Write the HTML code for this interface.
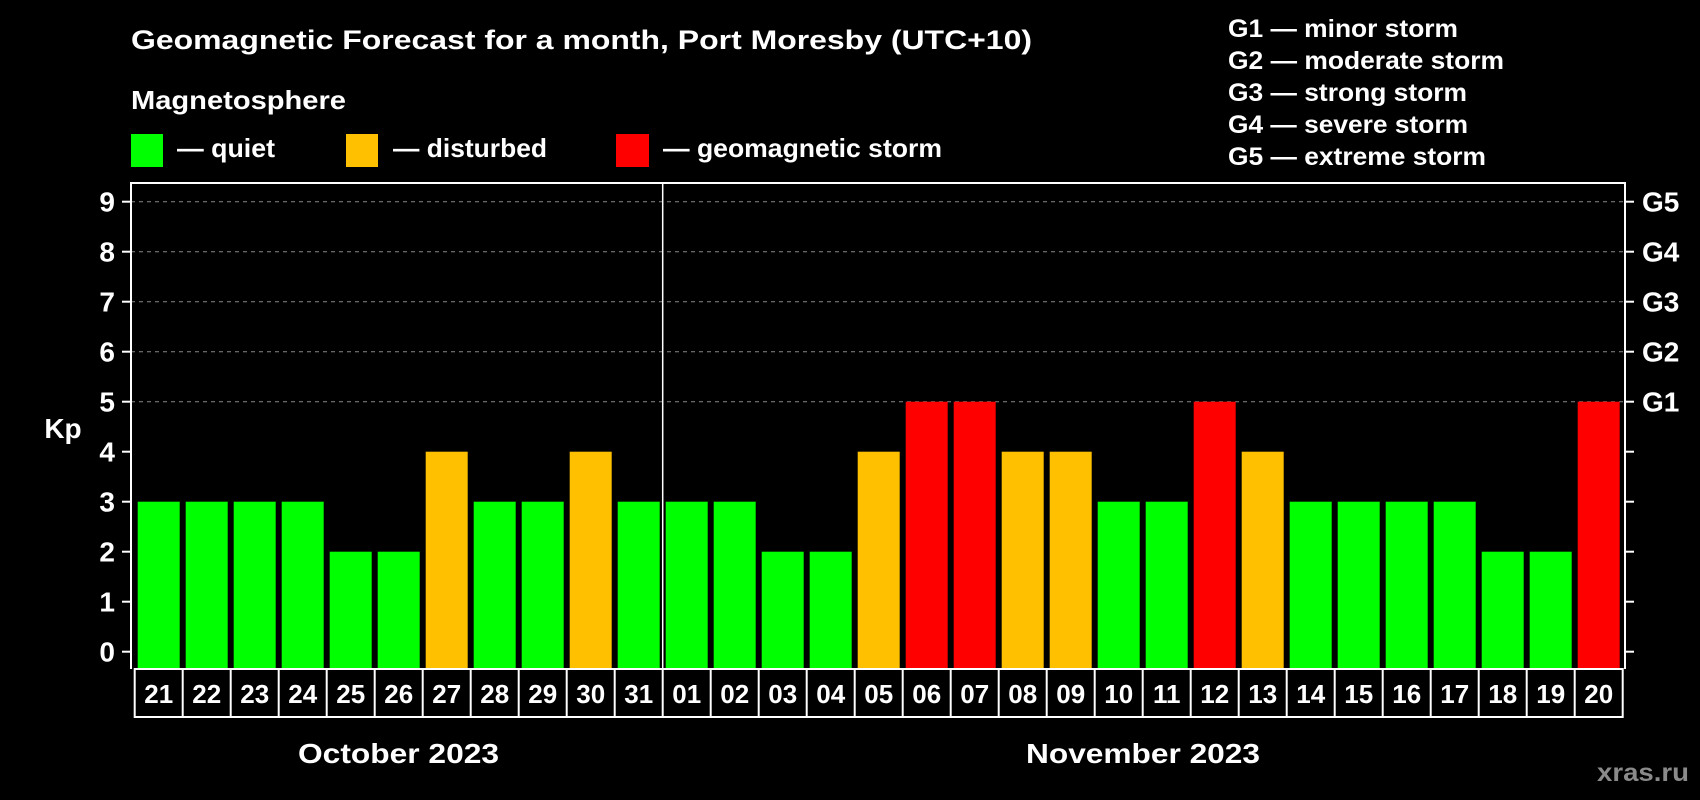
<!DOCTYPE html>
<html><head><meta charset="utf-8"><style>
html,body{margin:0;padding:0;background:#000;}
svg{display:block;font-family:"Liberation Sans",Arial,sans-serif;font-weight:bold;}
</style></head><body>
<svg id="chart" width="1700" height="800" viewBox="0 0 1700 800">
<rect x="0" y="0" width="1700" height="800" fill="#000"/>
<text x="131" y="49" font-size="27" fill="#fff" textLength="901" lengthAdjust="spacingAndGlyphs">Geomagnetic Forecast for a month, Port Moresby (UTC+10)</text>
<text x="131" y="109" font-size="26" fill="#fff" textLength="215" lengthAdjust="spacingAndGlyphs">Magnetosphere</text>
<g><rect x="131" y="134" width="32" height="33" fill="#00ff00"/><text x="177" y="157" font-size="26" fill="#fff" textLength="98" lengthAdjust="spacingAndGlyphs">— quiet</text></g>
<g><rect x="346" y="134" width="32" height="33" fill="#ffc000"/><text x="393" y="157" font-size="26" fill="#fff" textLength="154" lengthAdjust="spacingAndGlyphs">— disturbed</text></g>
<g><rect x="616" y="134" width="33" height="33" fill="#ff0000"/><text x="663" y="157" font-size="26" fill="#fff" textLength="279" lengthAdjust="spacingAndGlyphs">— geomagnetic storm</text></g>
<g font-size="25" fill="#fff">
<text x="1228" y="37" textLength="230" lengthAdjust="spacingAndGlyphs">G1 — minor storm</text>
<text x="1228" y="69" textLength="276" lengthAdjust="spacingAndGlyphs">G2 — moderate storm</text>
<text x="1228" y="101" textLength="239" lengthAdjust="spacingAndGlyphs">G3 — strong storm</text>
<text x="1228" y="133" textLength="240" lengthAdjust="spacingAndGlyphs">G4 — severe storm</text>
<text x="1228" y="165" textLength="258" lengthAdjust="spacingAndGlyphs">G5 — extreme storm</text>
</g>
<text x="63" y="438" font-size="28" fill="#fff" text-anchor="middle">Kp</text>
<g id="grid"></g><g id="bars"></g><g id="axes"></g><g id="dates"></g>
<text x="298" y="763" font-size="28" fill="#fff" textLength="201" lengthAdjust="spacingAndGlyphs">October 2023</text>
<text x="1026" y="763" font-size="28" fill="#fff" textLength="234" lengthAdjust="spacingAndGlyphs">November 2023</text>
<text x="1597" y="781" font-size="25" fill="#8a8a8a" textLength="92" lengthAdjust="spacingAndGlyphs">xras.ru</text>
</svg>
<script>
const days = ["21","22","23","24","25","26","27","28","29","30","31","01","02","03","04","05","06","07","08","09","10","11","12","13","14","15","16","17","18","19","20"];
const kpValues = [3,3,3,3,2,2,4,3,3,4,3,3,3,2,2,4,5,5,4,4,3,3,5,4,3,3,3,3,2,2,5];
const yTicks = [0,1,2,3,4,5,6,7,8,9];
const gLabels = ["G1","G2","G3","G4","G5"];
const NS="http://www.w3.org/2000/svg";
const x0=134.7, step=48, y0=651.7, unit=50;
const X=i=>x0+i*step;
const Y=v=>y0-v*unit;
function mk(t,a,p){const e=document.createElementNS(NS,t);for(const k in a)e.setAttribute(k,a[k]);p.appendChild(e);return e;}
const grid=document.getElementById('grid'),bars=document.getElementById('bars'),axes=document.getElementById('axes'),dates=document.getElementById('dates');
yTicks.forEach(v=>{
  if(v>=5){const l=mk('line',{x1:131,x2:1625,y1:Y(v),y2:Y(v),stroke:'#888','stroke-width':1,'stroke-dasharray':'4,4'},grid);
  
  }
  const t=mk('line',{x1:122,x2:131,y1:Y(v),y2:Y(v),stroke:'#fff','stroke-width':2},axes);
  
  
  const r=mk('line',{x1:1625,x2:1634,y1:Y(v),y2:Y(v),stroke:'#fff','stroke-width':2},axes);
  
  
  const tx=mk('text',{x:115,y:Y(v)+10,'font-size':28,fill:'#fff','text-anchor':'end'},axes);
  tx.textContent=v;
  
  
});
gLabels.forEach((g,i)=>{
  const t=mk('text',{x:1642,y:Y(5+i)+10,'font-size':28,fill:'#fff'},axes);
  t.textContent=g;
  
  
});
kpValues.forEach((v,i)=>{
  const c=v>=5?'#ff0000':(v>=4?'#ffc000':'#00ff00');
  const b=mk('rect',{x:X(i)+3,y:Y(v),width:42,height:y0+17-Y(v),fill:c},bars);
  
  
});
const frame=mk('path',{d:'M131,669 V183 H1625 V669',fill:'none',stroke:'#fff','stroke-width':2},axes);


const div=mk('line',{x1:X(11),x2:X(11),y1:183,y2:669,stroke:'#fff','stroke-width':1.5},axes);


const row=mk('rect',{x:X(0),y:669,width:step*days.length,height:48,fill:'none',stroke:'#fff','stroke-width':2},dates);


days.forEach((d,i)=>{
  if(i>0){const l=mk('line',{x1:X(i),x2:X(i),y1:669,y2:717,stroke:'#fff','stroke-width':2},dates);
  
  }
  const t=mk('text',{x:X(i)+24,y:703,'font-size':26,fill:'#fff','text-anchor':'middle'},dates);
  t.textContent=d;
  
  
});
</script>
</body></html>
